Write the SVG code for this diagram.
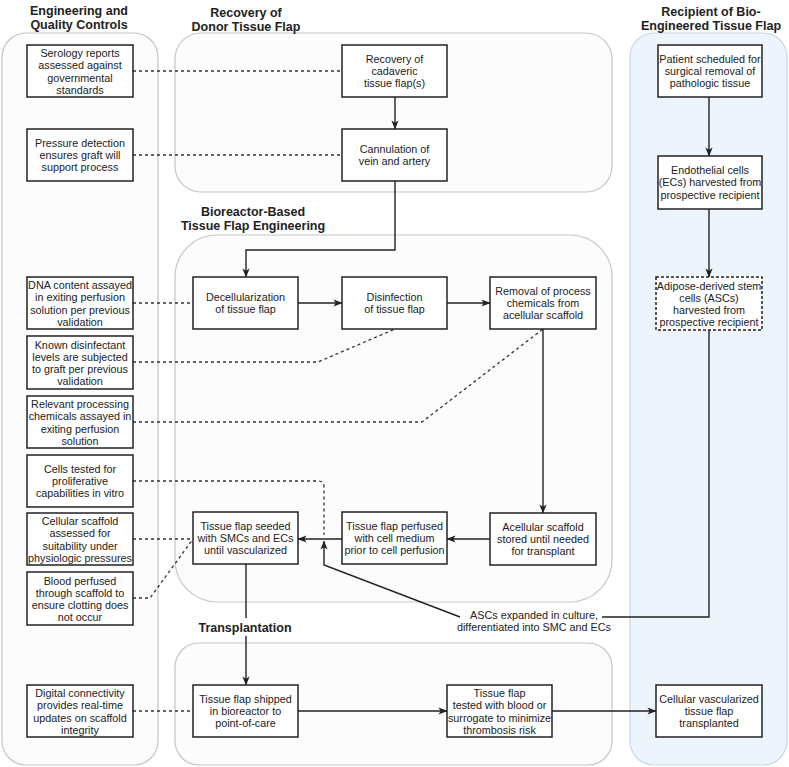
<svg xmlns="http://www.w3.org/2000/svg" width="789" height="767" viewBox="0 0 789 767">
<defs>
<style>
.lane{fill:#fcfcfc;stroke:#c2c7c7;stroke-width:1.2}
.lane-b{fill:#eef4fb;stroke:#c6d7ea;stroke-width:1.2}
.box{fill:#ffffff;stroke:#222;stroke-width:1.5}
.dbox{fill:#ffffff;stroke:#222;stroke-width:1.5;stroke-dasharray:3 2}
.t{font-family:"Liberation Sans",Arial,sans-serif;font-size:10.8px;fill:#222;text-anchor:middle}
.h{font-family:"Liberation Sans",Arial,sans-serif;font-size:12.5px;font-weight:bold;fill:#222;text-anchor:middle}
.e{fill:none;stroke:#222;stroke-width:1.4}
.d{fill:none;stroke:#333;stroke-width:1.3;stroke-dasharray:3 3}
</style>
<marker id="arr" viewBox="0 0 10 8" refX="9.5" refY="4" markerWidth="9" markerHeight="7.5" orient="auto" markerUnits="userSpaceOnUse">
<path d="M0,0 L10,4 L0,8 L2.5,4 z" fill="#222"/>
</marker>
</defs>
<rect width="789" height="767" fill="#ffffff"/>

<g id="lanes">
<rect id="lane-eq" class="lane" x="2" y="33" width="156" height="732" rx="24"/>
<rect id="lane-recovery" class="lane" x="175" y="33" width="437" height="159" rx="26"/>
<rect id="lane-bioreactor" class="lane" x="175" y="235" width="437" height="367" rx="42"/>
<rect id="lane-transplant" class="lane" x="175" y="643" width="437" height="122" rx="24"/>
<rect id="lane-recipient" class="lane-b" x="630" y="33" width="157" height="732" rx="24"/>
</g>

<g id="connectors">
<path class="d" d="M133,71 H342"/>
<path class="d" d="M133,155 H342"/>
<path class="d" d="M133,303 H193"/>
<path class="d" d="M133,362 H318 L395,329"/>
<path class="d" d="M133,422 H422 L543,329"/>
<path class="d" d="M133,481 H318 Q324,481 324,487 V535"/>
<path class="d" d="M133,539 H193"/>
<path class="d" d="M133,598 H150 L193,539"/>
<path class="d" d="M133,711 H193"/>
<path class="e" d="M395,97 V129" marker-end="url(#arr)"/>
<path class="e" d="M395,181 V250 H246 V277" marker-end="url(#arr)"/>
<path class="e" d="M298,303 H342" marker-end="url(#arr)"/>
<path class="e" d="M447,303 H490" marker-end="url(#arr)"/>
<path class="e" d="M543,329 V513" marker-end="url(#arr)"/>
<path class="e" d="M490,539 H447" marker-end="url(#arr)"/>
<path class="e" d="M342,539 H298" marker-end="url(#arr)"/>
<path class="e" d="M246,564 V618"/>
<path class="e" d="M246,636 V685" marker-end="url(#arr)"/>
<path class="e" d="M298,711 H447" marker-end="url(#arr)"/>
<path class="e" d="M552,711 H656" marker-end="url(#arr)"/>
<path class="e" d="M709,97 V156" marker-end="url(#arr)"/>
<path class="e" d="M709,209 V277" marker-end="url(#arr)"/>
<path class="e" d="M709,330 V617 H602"/>
<path class="e" d="M460,617 L324,565 V541" marker-end="url(#arr)"/>
<text class="t" x="534" y="619">ASCs expanded in culture,</text>
<text class="t" x="534" y="631">differentiated into SMC and ECs</text>
</g>

<g id="titles">
<text class="h" x="79" y="15">Engineering and</text>
<text class="h" x="79" y="29">Quality Controls</text>
<text class="h" x="246" y="17">Recovery of</text>
<text class="h" x="246" y="31">Donor Tissue Flap</text>
<text class="h" x="711" y="16">Recipient of Bio-</text>
<text class="h" x="711" y="30">Engineered Tissue Flap</text>
<text class="h" x="253" y="216">Bioreactor-Based</text>
<text class="h" x="253" y="230">Tissue Flap Engineering</text>
<text class="h" x="245" y="632">Transplantation</text>
</g>

<g id="n-serology"><rect class="box" x="27" y="45" width="106" height="52"/>
<text class="t" x="80" y="57">Serology reports<tspan x="80" dy="12.3">assessed against</tspan><tspan x="80" dy="12.3">governmental</tspan><tspan x="80" dy="12.3">standards</tspan></text></g>
<g id="n-pressure"><rect class="box" x="27" y="129" width="106" height="52"/>
<text class="t" x="80" y="146.5">Pressure detection<tspan x="80" dy="12.3">ensures graft will</tspan><tspan x="80" dy="12.3">support process</tspan></text></g>
<g id="n-dna"><rect class="box" x="27" y="277" width="106" height="52"/>
<text class="t" x="80" y="289">DNA content assayed<tspan x="80" dy="12.3">in exiting perfusion</tspan><tspan x="80" dy="12.3">solution per previous</tspan><tspan x="80" dy="12.3">validation</tspan></text></g>
<g id="n-disinfectant"><rect class="box" x="27" y="336" width="106" height="53"/>
<text class="t" x="80" y="348.5">Known disinfectant<tspan x="80" dy="12.3">levels are subjected</tspan><tspan x="80" dy="12.3">to graft per previous</tspan><tspan x="80" dy="12.3">validation</tspan></text></g>
<g id="n-relevant"><rect class="box" x="27" y="396" width="106" height="52"/>
<text class="t" x="80" y="408">Relevant processing<tspan x="80" dy="12.3">chemicals assayed in</tspan><tspan x="80" dy="12.3">exiting perfusion</tspan><tspan x="80" dy="12.3">solution</tspan></text></g>
<g id="n-cells"><rect class="box" x="27" y="455" width="106" height="52"/>
<text class="t" x="80" y="472.5">Cells tested for<tspan x="80" dy="12.3">proliferative</tspan><tspan x="80" dy="12.3">capabilities in vitro</tspan></text></g>
<g id="n-cellular"><rect class="box" x="27" y="513" width="106" height="52"/>
<text class="t" x="80" y="525">Cellular scaffold<tspan x="80" dy="12.3">assessed for</tspan><tspan x="80" dy="12.3">suitability under</tspan><tspan x="80" dy="12.3">physiologic pressures</tspan></text></g>
<g id="n-blood"><rect class="box" x="27" y="572" width="106" height="53"/>
<text class="t" x="80" y="584.5">Blood perfused<tspan x="80" dy="12.3">through scaffold to</tspan><tspan x="80" dy="12.3">ensure clotting does</tspan><tspan x="80" dy="12.3">not occur</tspan></text></g>
<g id="n-digital"><rect class="box" x="27" y="685" width="106" height="52"/>
<text class="t" x="80" y="697">Digital connectivity<tspan x="80" dy="12.3">provides real-time</tspan><tspan x="80" dy="12.3">updates on scaffold</tspan><tspan x="80" dy="12.3">integrity</tspan></text></g>

<g id="n-recovery"><rect class="box" x="342" y="45" width="105" height="52"/>
<text class="t" x="394.5" y="62.5">Recovery of<tspan x="394.5" dy="12.3">cadaveric</tspan><tspan x="394.5" dy="12.3">tissue flap(s)</tspan></text></g>
<g id="n-cannulation"><rect class="box" x="342" y="129" width="105" height="52"/>
<text class="t" x="394.5" y="152.5">Cannulation of<tspan x="394.5" dy="12.3">vein and artery</tspan></text></g>

<g id="n-decell"><rect class="box" x="193" y="277" width="105" height="52"/>
<text class="t" x="245.5" y="300.5">Decellularization<tspan x="245.5" dy="12.3">of tissue flap</tspan></text></g>
<g id="n-disinfection"><rect class="box" x="342" y="277" width="105" height="52"/>
<text class="t" x="394.5" y="300.5">Disinfection<tspan x="394.5" dy="12.3">of tissue flap</tspan></text></g>
<g id="n-removal"><rect class="box" x="490" y="277" width="106" height="52"/>
<text class="t" x="543" y="294.5">Removal of process<tspan x="543" dy="12.3">chemicals from</tspan><tspan x="543" dy="12.3">acellular scaffold</tspan></text></g>
<g id="n-acellular"><rect class="box" x="490" y="513" width="106" height="52"/>
<text class="t" x="543" y="530.5">Acellular scaffold<tspan x="543" dy="12.3">stored until needed</tspan><tspan x="543" dy="12.3">for transplant</tspan></text></g>
<g id="n-perfused"><rect class="box" x="342" y="512" width="105" height="52"/>
<text class="t" x="394.5" y="529.5">Tissue flap perfused<tspan x="394.5" dy="12.3">with cell medium</tspan><tspan x="394.5" dy="12.3">prior to cell perfusion</tspan></text></g>
<g id="n-seeded"><rect class="box" x="193" y="512" width="105" height="52"/>
<text class="t" x="245.5" y="529.5">Tissue flap seeded<tspan x="245.5" dy="12.3">with SMCs and ECs</tspan><tspan x="245.5" dy="12.3">until vascularized</tspan></text></g>

<g id="n-shipped"><rect class="box" x="193" y="685" width="105" height="52"/>
<text class="t" x="245.5" y="702.5">Tissue flap shipped<tspan x="245.5" dy="12.3">in bioreactor to</tspan><tspan x="245.5" dy="12.3">point-of-care</tspan></text></g>
<g id="n-tested"><rect class="box" x="447" y="685" width="105" height="52"/>
<text class="t" x="499.5" y="697">Tissue flap<tspan x="499.5" dy="12.3">tested with blood or</tspan><tspan x="499.5" dy="12.3">surrogate to minimize</tspan><tspan x="499.5" dy="12.3">thrombosis risk</tspan></text></g>
<g id="n-transplanted"><rect class="box" x="656" y="685" width="106" height="52"/>
<text class="t" x="709" y="702.5">Cellular vascularized<tspan x="709" dy="12.3">tissue flap</tspan><tspan x="709" dy="12.3">transplanted</tspan></text></g>

<g id="n-patient"><rect class="box" x="658" y="45" width="104" height="52"/>
<text class="t" x="710" y="62.5">Patient scheduled for<tspan x="710" dy="12.3">surgical removal of</tspan><tspan x="710" dy="12.3">pathologic tissue</tspan></text></g>
<g id="n-endothelial"><rect class="box" x="658" y="156" width="104" height="53"/>
<text class="t" x="710" y="174">Endothelial cells<tspan x="710" dy="12.3">(ECs) harvested from</tspan><tspan x="710" dy="12.3">prospective recipient</tspan></text></g>
<g id="n-adipose"><rect class="dbox" x="656" y="277" width="106" height="53"/>
<text class="t" x="709" y="289.5">Adipose-derived stem<tspan x="709" dy="12.3">cells (ASCs)</tspan><tspan x="709" dy="12.3">harvested from</tspan><tspan x="709" dy="12.3">prospective recipient</tspan></text></g>
</svg>
